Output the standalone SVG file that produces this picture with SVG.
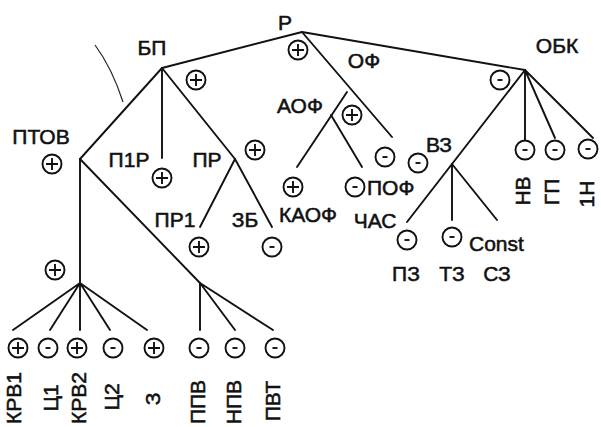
<svg xmlns="http://www.w3.org/2000/svg" width="601" height="427" viewBox="0 0 601 427">
  <style>
    .e { stroke: #111; stroke-width: 1.9; fill: none; stroke-linecap: round; }
    .thin { stroke: #222; stroke-width: 1.2; fill: none; }
    .sg { stroke: #111; stroke-width: 1.9; fill: #fff; }
    .mk { stroke: #111; stroke-width: 1.9; fill: none; }
    text { font-family: "Liberation Sans", Arial, sans-serif; font-size: 21px; fill: #111; stroke: #111; stroke-width: 0.55; }
    .m { text-anchor: middle; }
  </style>
  <defs>
    <g id="plus">
      <circle class="sg" r="9.5"/>
      <path class="mk" d="M-6,0H6M0,-6V6"/>
    </g>
    <g id="minus">
      <circle class="sg" r="9.5"/>
      <path class="mk" d="M-2.5,0H2.5" stroke-width="2.6"/>
    </g>
  </defs>
  <rect width="601" height="427" fill="#fff"/>

  <!-- tree edges -->
  <g id="connectors">
    <path class="e" d="M302,32L162,68"/>
    <path class="e" d="M302,32L525,70"/>
    <path class="e" d="M302,32L392,137"/>
    <path class="e" d="M347,92L297,167"/>
    <path class="e" d="M331,115L362,167"/>
    <path class="e" d="M162,68L80,159"/>
    <path class="e" d="M162,68L162,158"/>
    <path class="e" d="M162,68L235,159"/>
    <path class="e" d="M235,159L200,227"/>
    <path class="e" d="M235,159L272,227"/>
    <path class="e" d="M80,159L80,283"/>
    <path class="e" d="M80,159L200,283"/>
    <path class="e" d="M80,283L13,330M80,283L50,330M80,283L80,330M80,283L110,330M80,283L147,330"/>
    <path class="e" d="M200,283L200,330M200,283L235,330M200,283L273,330"/>
    <path class="e" d="M525,70L407,222"/>
    <path class="e" d="M452,164L452,220M452,164L497,220"/>
    <path class="e" d="M525,70L525,140M525,70L555,138M525,70L593,138"/>
    <path class="thin" d="M95,45Q112,68 123,102"/>
  </g>

  <g id="n-r"><text class="m" x="285" y="30">Р</text><use href="#plus" x="298" y="50"/></g>
  <g id="n-bp"><text class="m" x="152" y="55">БП</text><use href="#plus" x="196" y="80"/></g>
  <g id="n-ptov"><text class="m" x="41" y="144">ПТОВ</text><use href="#plus" x="52" y="164"/></g>
  <g id="n-p1r"><text class="m" x="129" y="167">П1Р</text><use href="#plus" x="162" y="178"/></g>
  <g id="n-pr"><text class="m" x="207" y="167">ПР</text><use href="#plus" x="255" y="150"/></g>
  <g id="n-pr1"><text class="m" x="175" y="227">ПР1</text><use href="#plus" x="199" y="247"/></g>
  <g id="n-zb"><text class="m" x="245" y="227">ЗБ</text><use href="#minus" x="272" y="247"/></g>
  <g id="n-group"><use href="#plus" x="55" y="270"/></g>

  <g id="n-krv1"><use href="#plus" x="18" y="348"/><text class="m" transform="translate(13,398) rotate(-90)" y="7.5">КРВ1</text></g>
  <g id="n-c1"><use href="#minus" x="48" y="348"/><text class="m" transform="translate(50,398) rotate(-90)" y="7.5">Ц1</text></g>
  <g id="n-krv2"><use href="#plus" x="77" y="348"/><text class="m" transform="translate(78,398) rotate(-90)" y="7.5">КРВ2</text></g>
  <g id="n-c2"><use href="#minus" x="113" y="348"/><text class="m" transform="translate(111,397) rotate(-90)" y="7.5">Ц2</text></g>
  <g id="n-z"><use href="#plus" x="154" y="348"/><text class="m" transform="translate(152,399) rotate(-90)" y="7.5">З</text></g>
  <g id="n-ppv"><use href="#minus" x="199" y="348"/><text class="m" transform="translate(197,402) rotate(-90)" y="7.5">ППВ</text></g>
  <g id="n-npv"><use href="#minus" x="235" y="348"/><text class="m" transform="translate(233,402) rotate(-90)" y="7.5">НПВ</text></g>
  <g id="n-pvt"><use href="#minus" x="275" y="348"/><text class="m" transform="translate(272,401) rotate(-90)" y="7.5">ПВТ</text></g>

  <g id="n-of"><text class="m" x="364" y="68">ОФ</text><use href="#minus" x="385" y="157"/></g>
  <g id="n-aof"><text class="m" x="300" y="113">АОФ</text><use href="#plus" x="352" y="115"/></g>
  <g id="n-kaof"><use href="#plus" x="293" y="187"/><text class="m" x="308" y="222">КАОФ</text></g>
  <g id="n-pof"><use href="#minus" x="355" y="187"/><text x="367" y="195">ПОФ</text><text class="m" x="375" y="228">ЧАС</text></g>

  <g id="n-obk"><text class="m" x="557" y="53">ОБК</text><use href="#minus" x="500" y="80"/></g>
  <g id="n-vz"><text class="m" x="439" y="152">ВЗ</text><use href="#minus" x="418" y="163"/></g>
  <g id="n-pz"><use href="#minus" x="407" y="240"/><text class="m" x="406" y="281">ПЗ</text></g>
  <g id="n-tz"><use href="#minus" x="452" y="237"/><text class="m" x="452" y="281">ТЗ</text></g>
  <g id="n-sz"><text x="469" y="251">Const</text><text class="m" x="497" y="281">СЗ</text></g>
  <g id="n-nv"><use href="#minus" x="525" y="150"/><text class="m" transform="translate(522,191) rotate(-90)" y="7.5">НВ</text></g>
  <g id="n-gp"><use href="#minus" x="555" y="150"/><text class="m" transform="translate(551,192) rotate(-90)" y="7.5">ГП</text></g>
  <g id="n-1n"><use href="#minus" x="588" y="149"/><text class="m" transform="translate(586,194) rotate(-90)" y="7.5">1Н</text></g>
</svg>
